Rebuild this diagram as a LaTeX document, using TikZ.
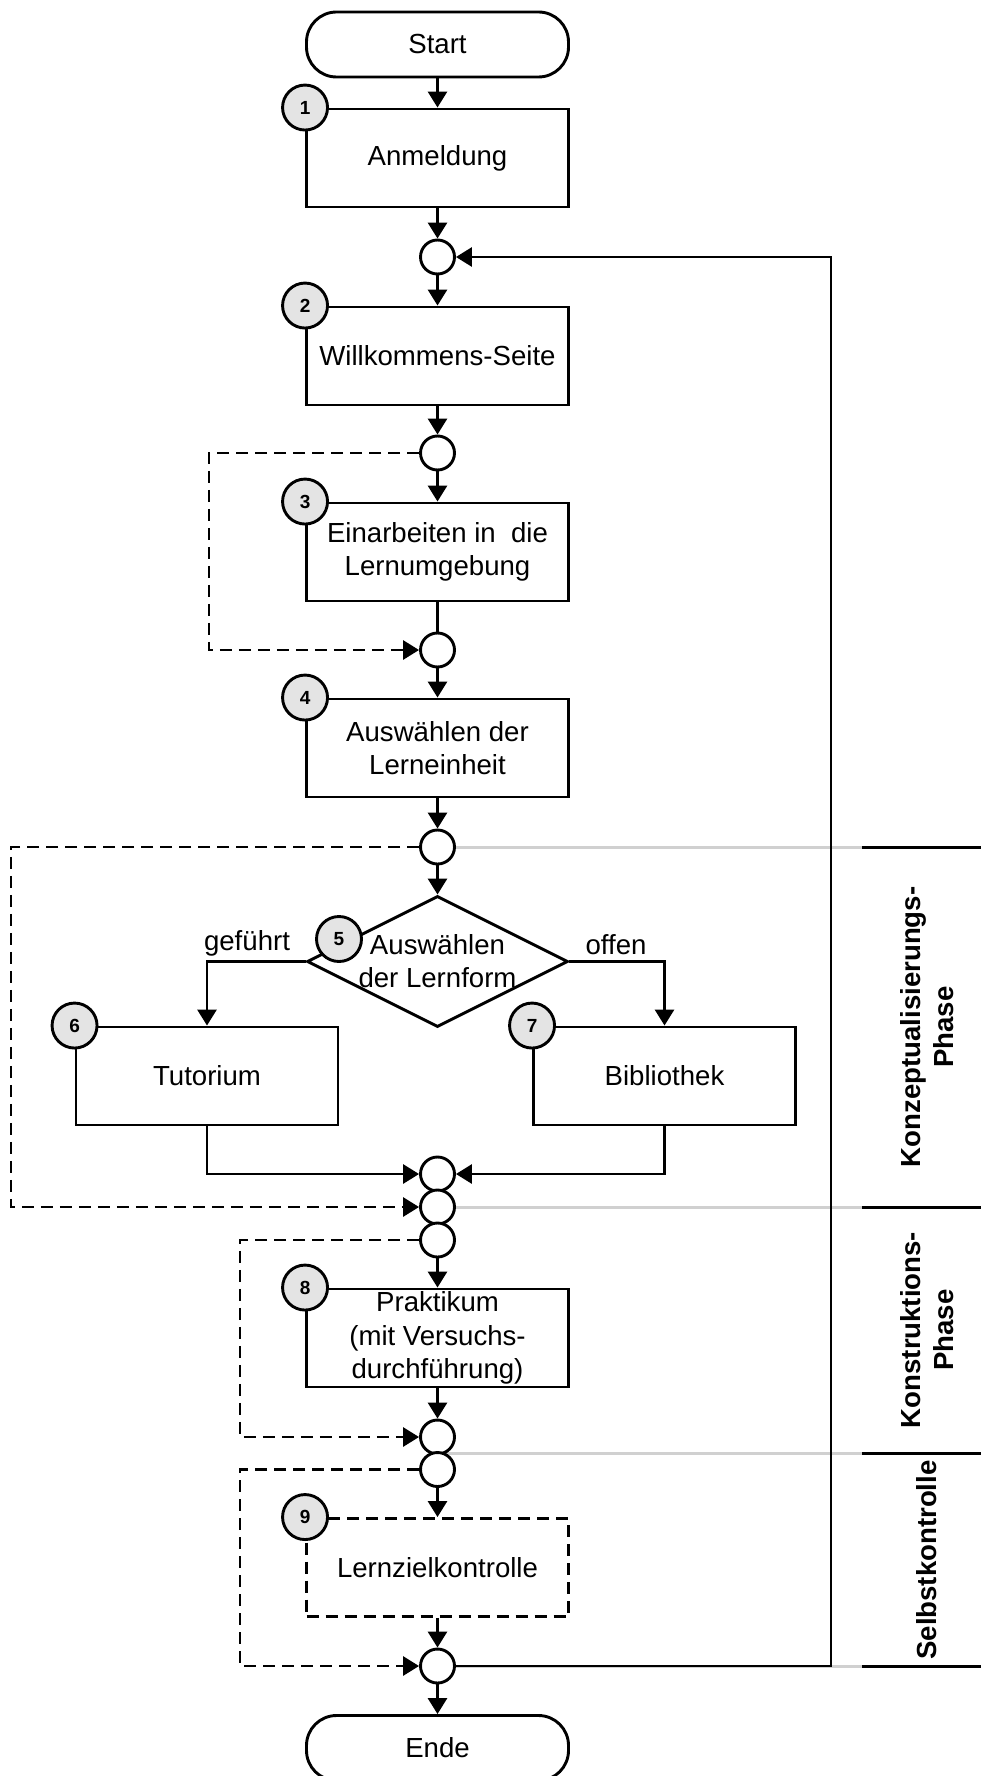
\documentclass[tikz,border=0pt]{standalone}
\usepackage{fontspec}
\setmainfont{Liberation Sans}
\usetikzlibrary{arrows.meta,shapes.geometric,backgrounds}
\definecolor{badgegray}{RGB}{228,228,228}
\definecolor{guidegray}{RGB}{208,208,208}
\newcommand\mainfs{\fontsize{13.8pt}{16.6pt}\selectfont}
\newcommand\badgefs{\fontsize{9.5pt}{11pt}\selectfont\bfseries}
\newcommand\phasefs{\fontsize{13.8pt}{16.6pt}\selectfont\bfseries}
\tikzset{
  lw/.style={line width=1.45pt},
  procbox/.style={draw, lw, rectangle, minimum width=131pt, minimum height=49pt,
    inner sep=0pt, align=center, font=\mainfs, fill=white},
  dprocbox/.style={procbox, dash pattern=on 6pt off 3.5pt},
  termbox/.style={draw, lw, rectangle, rounded corners=15pt, minimum width=131pt,
    minimum height=32.5pt, inner sep=0pt, font=\mainfs, fill=white},
  junct/.style={draw, lw, circle, minimum size=17pt, inner sep=0pt, fill=white},
  badge/.style={draw, lw, circle, minimum size=22.5pt, inner sep=0pt,
    fill=badgegray, font=\badgefs},
  decis/.style={draw, lw, diamond, minimum width=130.5pt, minimum height=65.5pt,
    inner sep=0pt, fill=white},
  flow/.style={lw, -{Triangle[length=8pt,width=9.5pt]}},
  plainline/.style={lw},
  dflow/.style={flow, dash pattern=on 6pt off 3.5pt},
  guide/.style={line width=1.5pt, guidegray},
  phaseline/.style={line width=1.5pt},
  lbl/.style={font=\mainfs, inner sep=0pt},
  phase/.style={font=\phasefs, align=center, rotate=90, inner sep=0pt},
}
\begin{document}
\begin{tikzpicture}[x=0.5pt,y=-0.5pt]
\useasboundingbox (0,0) rectangle (981,1776);

% main nodes
\node[termbox] (start) at (437.5,44.5) {Start};
\node[procbox] (b1) at (437.5,158) {Anmeldung};
\node[junct] (c1) at (437.5,257) {};
\node[procbox] (b2) at (437.5,356) {Willkommens-Seite};
\node[junct] (c2) at (437.5,453) {};
\node[procbox] (b3) at (437.5,552) {Einarbeiten in\ \ die\\Lernumgebung};
\node[junct] (c3) at (437.5,650) {};
\node[procbox] (b4) at (437.5,748) {Auswählen der\\Lerneinheit};
\node[junct] (c4) at (437.5,847) {};
\node[decis] (dia) at (437.5,961.5) {};
\node[lbl, align=center] (diatext) at (437.5,961) {Auswählen\\der Lernform};
\node[procbox] (b6) at (207,1076) {Tutorium};
\node[procbox] (b7) at (664.5,1076) {Bibliothek};
\node[junct] (c5) at (437.5,1174) {};
\node[junct] (c6) at (437.5,1207) {};
\node[junct] (c7) at (437.5,1240) {};
\node[procbox] (b8) at (437.5,1338) {Praktikum\\(mit Versuchs-\\durchführung)};
\node[junct] (c8) at (437.5,1437) {};
\node[junct] (c9) at (437.5,1469.5) {};
\node[dprocbox] (b9) at (437.5,1567.5) {Lernzielkontrolle};
\node[junct] (c10) at (437.5,1666) {};
\node[termbox] (ende) at (437.5,1748) {Ende};

% branch labels
\node[lbl] (lgef) at (247,943) {geführt};
\node[lbl] (loff) at (616,945) {offen};

% badges
\node[badge] (n1) at (b1.north west) {1};
\node[badge] (n2) at (b2.north west) {2};
\node[badge] (n3) at (b3.north west) {3};
\node[badge] (n4) at (b4.north west) {4};
\node[badge] (n5) at (339,939) {5};
\node[badge] (n6) at (b6.north west) {6};
\node[badge] (n7) at (b7.north west) {7};
\node[badge] (n8) at (b8.north west) {8};
\node[badge] (n9) at (b9.north west) {9};

% coordinates
\coordinate (loopb) at (831,1666);
\coordinate (loopt) at (831,257);
\coordinate (d1t) at (209,453);
\coordinate (d1b) at (209,650);
\coordinate (d2t) at (11,847);
\coordinate (d2b) at (11,1207);
\coordinate (d3t) at (240,1240);
\coordinate (d3b) at (240,1437);
\coordinate (d4t) at (240,1469.5);
\coordinate (d4b) at (240,1666);
\coordinate (g1a) at (437.5,847);
\coordinate (g2a) at (437.5,1207);
\coordinate (g3a) at (437.5,1453);
\coordinate (g4a) at (437.5,1666);
\coordinate (p1a) at (862,847);
\coordinate (p1b) at (981,847);
\coordinate (p2a) at (862,1207);
\coordinate (p2b) at (981,1207);
\coordinate (p3a) at (862,1453);
\coordinate (p3b) at (981,1453);
\coordinate (p4a) at (862,1666);
\coordinate (p4b) at (981,1666);

% guide lines behind
\begin{scope}[on background layer]
\draw[guide] (g1a) -- (p1a);
\draw[guide] (g2a) -- (p2a);
\draw[guide] (g3a) -- (p3a);
\draw[guide] (g4a) -- (p4a);
\end{scope}

% phase markers
\draw[phaseline] (p1a) -- (p1b);
\draw[phaseline] (p2a) -- (p2b);
\draw[phaseline] (p3a) -- (p3b);
\draw[phaseline] (p4a) -- (p4b);
\node[phase] (ph1) at (927,1027) {Konzeptualisierungs-\\Phase};
\node[phase] (ph2) at (927,1330) {Konstruktions-\\Phase};
\node[phase] (ph3) at (927,1560) {Selbstkontrolle};

% main flow
\draw[flow] (start) -- (b1);
\draw[flow] (b1) -- (c1);
\draw[flow] (c1) -- (b2);
\draw[flow] (b2) -- (c2);
\draw[flow] (c2) -- (b3);
\draw[plainline] (b3) -- (c3);
\draw[flow] (c3) -- (b4);
\draw[flow] (b4) -- (c4);
\draw[flow] (c4) -- (dia.north);
\draw[flow] (dia.west) -| (b6.north);
\draw[flow] (dia.east) -| (b7.north);
\draw[flow] (b6.south) |- (c5.west);
\draw[flow] (b7.south) |- (c5.east);
\draw[flow] (c7) -- (b8);
\draw[flow] (b8) -- (c8);
\draw[flow] (c9) -- (b9);
\draw[flow] (b9) -- (c10);
\draw[flow] (c10) -- (ende);
\draw[flow] (c10) -- (loopb) -- (loopt) -- (c1);

% dashed loops
\draw[dflow] (c2) -- (d1t) -- (d1b) -- (c3);
\draw[dflow] (c4) -- (d2t) -- (d2b) -- (c6);
\draw[dflow] (c7) -- (d3t) -- (d3b) -- (c8);
\draw[dflow] (c9) -- (d4t) -- (d4b) -- (c10);
\end{tikzpicture}
\end{document}
